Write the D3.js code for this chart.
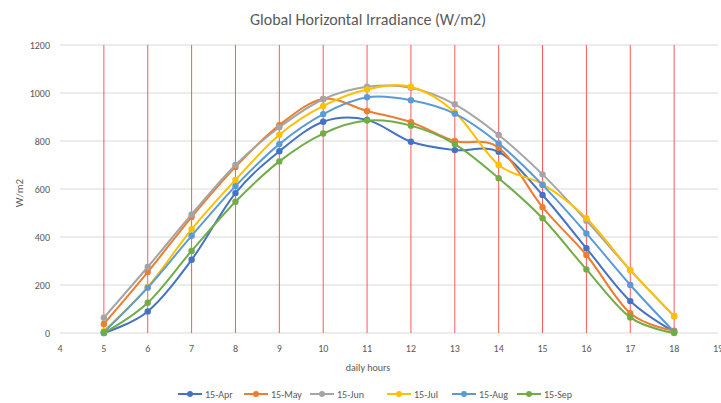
<!DOCTYPE html>
<html>
<head>
<meta charset="utf-8">
<script src="https://cdn.jsdelivr.net/npm/d3@7"></script>
<style>
  body { margin: 0; background: #fff; }
  svg { font-family: Carlito, "Liberation Sans", Arial, sans-serif; }
</style>
</head>
<body>
<div id="container"></div>
<script>
const hours = [5, 6, 7, 8, 9, 10, 11, 12, 13, 14, 15, 16, 17, 18]
const seriesNames = ["15-Apr", "15-May", "15-Jun", "15-Jul", "15-Aug", "15-Sep"]
const seriesColors = ["#4472C4", "#ED7D31", "#A5A5A5", "#FFC000", "#5B9BD5", "#70AD47"]
const apr = [0, 90, 305, 583, 757, 880, 888, 797, 762, 755, 575, 353, 133, 5]
const may = [38, 254, 483, 692, 866, 975, 925, 878, 800, 772, 524, 325, 82, 10]
const jun = [64, 275, 494, 700, 857, 974, 1026, 1022, 953, 825, 661, 468, 262, 70]
const jul = [8, 192, 432, 638, 826, 946, 1015, 1026, 920, 700, 620, 478, 262, 71]
const aug = [3, 189, 405, 612, 787, 912, 982, 970, 914, 790, 617, 415, 200, 5]
const sep = [0, 126, 342, 547, 715, 831, 885, 864, 787, 645, 478, 265, 65, 0]
const yTicks = [0, 200, 400, 600, 800, 1000, 1200]
const xTicks = [4, 5, 6, 7, 8, 9, 10, 11, 12, 13, 14, 15, 16, 17, 18, 19]

const allSeries = [apr, may, jun, jul, aug, sep]

const width = 721, height = 403

const x = d3.scaleLinear().domain([4, 19]).range([60, 718])
const y = d3.scaleLinear().domain([0, 1200]).range([333, 45])

const svg = d3.select("#container").append("svg")
    .attr("width", width)
    .attr("height", height)

// title
svg.append("text")
    .attr("x", 368)
    .attr("y", 25)
    .attr("text-anchor", "middle")
    .attr("font-size", 16)
    .attr("fill", "#595959")
    .text("Global Horizontal Irradiance (W/m2)")

// horizontal grid
svg.append("g")
    .selectAll("line")
    .data(yTicks)
    .join("line")
    .attr("x1", x(4))
    .attr("x2", x(19))
    .attr("y1", d => y(d))
    .attr("y2", d => y(d))
    .attr("stroke", "#d9d9d9")
    .attr("stroke-width", 1)

// red vertical lines
svg.append("g")
    .selectAll("line")
    .data(hours)
    .join("line")
    .attr("x1", d => x(d))
    .attr("x2", d => x(d))
    .attr("y1", y(1200))
    .attr("y2", y(0))
    .attr("stroke", "#ff3b3b")
    .attr("stroke-opacity", 0.85)
    .attr("stroke-width", 1)

// y tick labels
svg.append("g")
    .selectAll("text")
    .data(yTicks)
    .join("text")
    .attr("x", 50)
    .attr("y", d => y(d))
    .attr("dy", "0.35em")
    .attr("text-anchor", "end")
    .attr("font-size", 10)
    .attr("fill", "#595959")
    .text(d => d)

// x tick labels
svg.append("g")
    .selectAll("text")
    .data(xTicks)
    .join("text")
    .attr("x", d => x(d))
    .attr("y", 352)
    .attr("text-anchor", "middle")
    .attr("font-size", 10)
    .attr("fill", "#595959")
    .text(d => d)

// axis titles
svg.append("text")
    .attr("transform", "translate(23,193) rotate(-90)")
    .attr("text-anchor", "middle")
    .attr("font-size", 11)
    .attr("fill", "#595959")
    .text("W/m2")

svg.append("text")
    .attr("x", 368)
    .attr("y", 371)
    .attr("text-anchor", "middle")
    .attr("font-size", 10)
    .attr("fill", "#595959")
    .text("daily hours")

// series
const line = d3.line()
    .x((d, i) => x(hours[i]))
    .y(d => y(d))
    .curve(d3.curveCardinal.tension(0))

const series = svg.append("g")
    .selectAll("g")
    .data(allSeries)
    .join("g")

series.append("path")
    .attr("d", line)
    .attr("fill", "none")
    .attr("stroke", (d, i) => seriesColors[i])
    .attr("stroke-width", 2)

series.each(function (d, i) {
    d3.select(this).selectAll("circle")
        .data(d)
        .join("circle")
        .attr("cx", (v, j) => x(hours[j]))
        .attr("cy", v => y(v))
        .attr("r", 3.2)
        .attr("fill", seriesColors[i])
})

// legend
const legendX = [178, 244, 310, 387, 452, 517]
const legend = svg.append("g")
    .selectAll("g")
    .data(seriesNames)
    .join("g")
    .attr("transform", (d, i) => `translate(${legendX[i]},394)`)

legend.append("line")
    .attr("x1", 0)
    .attr("x2", 24)
    .attr("stroke", (d, i) => seriesColors[i])
    .attr("stroke-width", 2)

legend.append("circle")
    .attr("cx", 12)
    .attr("r", 3)
    .attr("fill", (d, i) => seriesColors[i])

legend.append("text")
    .attr("x", 27)
    .attr("dy", "0.35em")
    .attr("font-size", 10)
    .attr("fill", "#595959")
    .text(d => d)
</script>
</body>
</html>
